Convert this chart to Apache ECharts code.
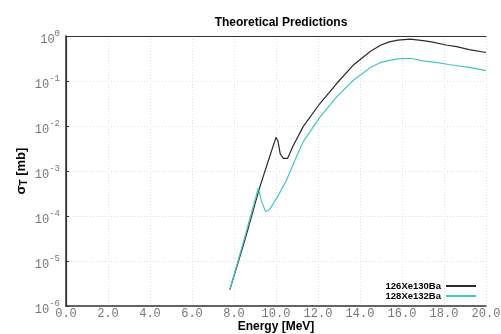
<!DOCTYPE html>
<html><head><meta charset="utf-8">
<script src="https://cdn.jsdelivr.net/npm/echarts@6/dist/echarts.min.js"></script>
<style>html,body{margin:0;padding:0;background:#fff}#c{width:501px;height:334px}</style>
</head><body><div id="c"></div>
<script>
const energyA = [7.8, 8.5, 9.2, 9.7, 10.0, 10.1, 10.2, 10.35, 10.55, 10.8, 11.3, 12.1, 12.9, 13.7, 14.5, 15.0, 15.4, 15.8, 16.4, 17.0, 17.4, 18.1, 18.6, 19.2, 20.0];
const sigmaA = [2.3e-6, 2.75e-5, 4.0e-4, 2.1e-3, 5.6e-3, 4.5e-3, 2.4e-3, 1.9e-3, 1.9e-3, 3.5e-3, 9.8e-3, 3.2e-2, 8.9e-2, 0.23, 0.46, 0.63, 0.74, 0.81, 0.85, 0.79, 0.74, 0.63, 0.58, 0.50, 0.43];
const energyB = [7.8, 8.5, 9.16, 9.3, 9.5, 9.7, 10.1, 10.5, 11.0, 11.3, 12.1, 12.9, 13.7, 14.5, 15.0, 15.3, 15.8, 16.4, 17.0, 17.6, 18.3, 19.2, 20.0];
const sigmaB = [2.3e-6, 3.2e-5, 4.2e-4, 2.2e-4, 1.26e-4, 1.4e-4, 2.8e-4, 6.3e-4, 2.2e-3, 4.5e-3, 1.6e-2, 4.5e-2, 0.105, 0.2, 0.26, 0.28, 0.31, 0.32, 0.28, 0.26, 0.23, 0.2, 0.17];
const seriesNames = ['126Xe130Ba', '128Xe132Ba'];
const xTicks = ['0.0','2.0','4.0','6.0','8.0','10.0','12.0','14.0','16.0','18.0','20.0'];

const pairs = (xs, ys) => xs.map((x, i) => [x, ys[i]]);
const mono = 'Liberation Mono';
const sans = 'Liberation Sans';
const frameLine = {lineStyle: {color: '#333', width: 1.2}};
const chart = echarts.init(document.getElementById('c'));
chart.setOption({
  animation: false,
  title: {
    text: 'Theoretical Predictions', left: 276, top: 12, textAlign: 'center',
    textStyle: {fontFamily: sans, fontWeight: 'bold', fontSize: 12, color: '#000'}
  },
  grid: {left: 66, top: 36, right: 15, bottom: 28, outerBoundsMode: 'none', containLabel: false},
  legend: {
    orient: 'vertical', right: 25, top: 281, align: 'right', itemGap: 0,
    itemWidth: 30, itemHeight: 2, icon: 'rect', padding: 0,
    textStyle: {fontFamily: sans, fontWeight: 'bold', fontSize: 9.5, lineHeight: 10, color: '#000'},
    data: seriesNames
  },
  xAxis: [{
    type: 'value', min: 0, max: 20, interval: 2,
    name: 'Energy [MeV]', nameLocation: 'middle', nameGap: 15, nameMoveOverlap: false,
    nameTextStyle: {fontFamily: sans, fontWeight: 'bold', fontSize: 12, color: '#000'},
    axisLine: {lineStyle: {color: '#333', width: 1.5}},
    axisTick: {show: false},
    axisLabel: {fontFamily: mono, fontSize: 12, color: '#777', margin: 2,
      formatter: v => xTicks[Math.round(v / 2)]},
    splitLine: {lineStyle: {color: '#ddd', type: [1, 2]}}
  }, {
    type: 'value', min: 0, max: 20, interval: 2, position: 'top',
    axisLine: frameLine, axisTick: {show: false}, axisLabel: {show: false}, splitLine: {show: false}
  }],
  yAxis: [{
    type: 'log', logBase: 10, min: 1e-6, max: 1,
    name: '{b|σ}{s|T}{b| [mb]}', nameLocation: 'middle', nameGap: 37, nameRotate: 90, nameMoveOverlap: false,
    nameTextStyle: {rich: {
      b: {fontFamily: sans, fontWeight: 'bold', fontSize: 13, color: '#000'},
      s: {fontFamily: sans, fontWeight: 'bold', fontSize: 10, color: '#000', padding: [6, 0, 0, 0]}
    }},
    axisLine: {lineStyle: {color: '#333', width: 1.5}},
    axisTick: {inside: true, length: 3, lineStyle: {color: '#333'}},
    axisLabel: {margin: 6,
      formatter: v => '{b|10}{s|' + Math.round(Math.log10(v)) + '}',
      rich: {
        b: {fontFamily: mono, fontSize: 12, color: '#777', padding: [7, 0, 0, 0]},
        s: {fontFamily: mono, fontSize: 9, color: '#777', padding: [0, 0, 5, 0]}
      }
    },
    splitLine: {lineStyle: {color: '#ddd', type: [1, 2]}}
  }, {
    type: 'log', logBase: 10, min: 1e-6, max: 1, position: 'right',
    axisLine: frameLine, axisTick: {show: false}, axisLabel: {show: false}, splitLine: {show: false}
  }],
  series: [
    {name: seriesNames[0], type: 'line', data: pairs(energyA, sigmaA), symbol: 'none',
     lineStyle: {color: '#2a2a2a', width: 1.2}, itemStyle: {color: '#2a2a2a'}},
    {name: seriesNames[1], type: 'line', data: pairs(energyB, sigmaB), symbol: 'none',
     lineStyle: {color: '#45c8c0', width: 1.2}, itemStyle: {color: '#45c8c0'}}
  ]
});
</script></body></html>
